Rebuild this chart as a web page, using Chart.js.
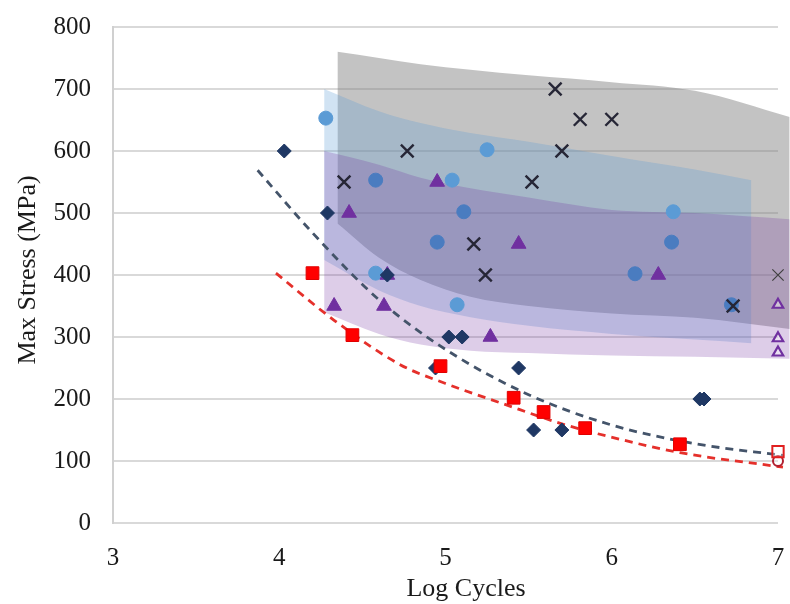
<!DOCTYPE html>
<html>
<head>
<meta charset="utf-8">
<script src="https://cdn.jsdelivr.net/npm/chart.js@4/dist/chart.umd.min.js"></script>
<style>
  body { margin: 0; background: #fff; }
  #wrap { width: 790px; height: 604px; }
</style>
</head>
<body>
<div id="wrap"><canvas id="sn"></canvas></div>
<script>
// scatter data (log cycles, max stress MPa)
let diamondX = [4.03, 4.29, 4.65, 4.94, 5.02, 5.10, 5.44, 5.53, 5.70, 6.53, 6.555];
let diamondY = [600, 500, 400, 250, 300, 300, 250, 150, 150, 200, 200];

let circleLightX = [4.28, 4.58, 5.04, 5.07, 5.25, 6.37];
let circleLightY = [653, 403, 553, 352, 602, 502];
let circleX = [4.58, 4.95, 5.11, 6.14, 6.36, 6.72];
let circleY = [553, 453, 502, 402, 453, 352];

let triX = [4.33, 4.42, 4.63, 4.65, 4.95, 5.27, 5.44, 6.28];
let triY = [350, 500, 350, 400, 550, 300, 450, 400];
let triOpenX = [7, 7, 7];
let triOpenY = [352, 298, 275];

let crossX = [4.39, 4.77, 5.17, 5.24, 5.52, 5.66, 5.70, 5.81, 6.0, 6.73];
let crossY = [550, 600, 450, 400, 550, 700, 600, 651, 651, 350];
let crossOpenX = [7];
let crossOpenY = [400];

let squareX = [4.20, 4.44, 4.97, 5.41, 5.59, 5.84, 6.41];
let squareY = [403, 303, 253, 202, 179, 153, 127];
let squareOpenX = [7];
let squareOpenY = [115];
let circleOpenX = [7];
let circleOpenY = [100];

// dashed trend lines
let trendGrayX = [3.87, 4.2, 4.6, 5.0, 5.5, 6.0, 6.5, 7.03];
let trendGrayY = [569, 468, 360, 280, 207, 158, 128, 109];
let trendRedX = [3.98, 4.33, 4.73, 5.0, 5.35, 5.7, 6.05, 6.42, 7.03];
let trendRedY = [403, 327, 255, 225, 192, 160, 135, 113, 90];

// shaded bands
let grayBandX = [4.35, 4.6, 4.85, 5.15, 5.5, 6.0, 6.5, 7.07];
let grayBandTop = [760, 750, 740, 731, 722, 711, 697, 655];
let grayBandBot = [483, 428, 392, 365, 350, 338, 331, 313];

let blueBandX = [4.27, 4.6, 4.85, 5.15, 5.5, 6.0, 6.5, 6.84];
let blueBandTop = [700, 664, 645, 629, 615, 592, 570, 553];
let blueBandBot = [424, 375, 350, 332, 318, 305, 296, 290];

let purpleBandX = [4.27, 4.6, 4.85, 5.15, 5.5, 6.0, 6.5, 7.07];
let purpleBandTop = [600, 578, 557, 540, 525, 505, 500, 490];
let purpleBandBot = [340, 305, 288, 278, 274, 270, 268, 265];

const spill = {left: 0, top: 0, right: 12, bottom: 0};

function pts(xs, ys) {
    return xs.map(function(x, i) { return {x: x, y: ys[i]}; });
}

function marker(xs, ys, style, r, fill, border, bw) {
    return {
        type: 'scatter',
        data: pts(xs, ys),
        pointStyle: style,
        pointRadius: r,
        pointHoverRadius: r,
        backgroundColor: fill,
        borderColor: border,
        borderWidth: bw,
        clip: false,
        order: 1
    };
}

function bandTop(xs, ys, color) {
    return {
        type: 'line',
        data: pts(xs, ys),
        borderWidth: 0,
        borderColor: 'transparent',
        backgroundColor: color,
        pointRadius: 0,
        cubicInterpolationMode: 'monotone',
        fill: '+1',
        clip: spill,
        order: 10
    };
}

function bandBot(xs, ys) {
    return {
        type: 'line',
        data: pts(xs, ys),
        borderWidth: 0,
        borderColor: 'transparent',
        pointRadius: 0,
        cubicInterpolationMode: 'monotone',
        fill: false,
        clip: spill,
        order: 10
    };
}

function trend(xs, ys, color) {
    return {
        type: 'line',
        data: pts(xs, ys),
        borderColor: color,
        borderWidth: 2.8,
        borderDash: [8, 6],
        pointRadius: 0,
        cubicInterpolationMode: 'monotone',
        fill: false,
        clip: spill,
        order: 5
    };
}

// the shaded areas run a little past the last tick, so widen the area while datasets draw
const widenArea = {
    id: 'widenArea',
    beforeDatasetsDraw(chart) {
        chart.chartArea.right += 12;
    },
    afterDatasetsDraw(chart) {
        chart.chartArea.right -= 12;
    }
};

// axis titles drawn at the spots the original puts them
const axisTitles = {
    id: 'axisTitles',
    afterDraw(chart) {
        const c = chart.ctx;
        c.save();
        c.fillStyle = '#1a1a1a';
        c.font = '26px "Liberation Serif", "Times New Roman", serif';
        c.textAlign = 'center';
        c.textBaseline = 'middle';
        c.fillText('Log Cycles', 466, 589);
        c.translate(28, 270);
        c.rotate(-Math.PI / 2);
        c.fillText('Max Stress (MPa)', 0, 0);
        c.restore();
    }
};

var ctx = document.getElementById('sn').getContext('2d');
var chart = new Chart(ctx, {
    type: 'scatter',
    data: {
        datasets: [
            marker(squareX, squareY, 'rect', 9, '#FF0000', '#E00000', 1),
            marker(squareOpenX, squareOpenY, 'rect', 8, 'rgba(255,255,255,0.3)', '#E02020', 2),
            marker(circleOpenX, circleOpenY, 'circle', 5, 'rgba(255,255,255,0.3)', '#B02030', 2),
            marker(diamondX, diamondY, 'rectRot', 7, '#1F3864', '#1F3864', 1),
            marker(triX, triY, 'triangle', 8.5, '#7030A0', '#7030A0', 1),
            marker(triOpenX, triOpenY, 'triangle', 6, 'rgba(255,255,255,0.4)', '#7030A0', 2.2),
            marker(crossX, crossY, 'crossRot', 9, '#262636', '#262636', 2.4),
            marker(crossOpenX, crossOpenY, 'crossRot', 8, '#404040', '#404040', 1.2),
            marker(circleLightX, circleLightY, 'circle', 7, '#5B9BD5', '#5B9BD5', 1),
            marker(circleX, circleY, 'circle', 7, '#4A7CC0', '#4A7CC0', 1),
            trend(trendGrayX, trendGrayY, '#44546A'),
            trend(trendRedX, trendRedY, '#E5302B'),
            bandTop(purpleBandX, purpleBandTop, 'rgba(112,48,160,0.24)'),
            bandBot(purpleBandX, purpleBandBot),
            bandTop(blueBandX, blueBandTop, 'rgba(91,155,213,0.28)'),
            bandBot(blueBandX, blueBandBot),
            bandTop(grayBandX, grayBandTop, 'rgba(127,127,127,0.47)'),
            bandBot(grayBandX, grayBandBot)
        ]
    },
    options: {
        responsive: true,
        maintainAspectRatio: false,
        animation: false,
        layout: {
            padding: { top: 27, right: 12, left: 0, bottom: 0 }
        },
        plugins: {
            legend: { display: false },
            tooltip: { enabled: false }
        },
        scales: {
            x: {
                type: 'linear',
                min: 3,
                max: 7,
                ticks: {
                    stepSize: 1,
                    padding: 20,
                    color: '#1a1a1a',
                    font: { family: '"Liberation Serif", serif', size: 25 }
                },
                grid: { display: false, drawTicks: false },
                border: { display: false },
                afterFit: function(scale) {
                    scale.height = 81;
                    scale.paddingLeft = 0;
                    scale.paddingRight = 0;
                }
            },
            y: {
                min: 0,
                max: 800,
                ticks: {
                    stepSize: 100,
                    padding: 22,
                    color: '#1a1a1a',
                    font: { family: '"Liberation Serif", serif', size: 25 }
                },
                grid: { color: '#D9D9D9', lineWidth: 2, drawTicks: false },
                border: { display: true, color: '#D0D0D0', width: 2 },
                afterFit: function(scale) {
                    scale.width = 113;
                    scale.paddingTop = 0;
                    scale.paddingBottom = 0;
                }
            }
        }
    },
    plugins: [widenArea, axisTitles]
});
</script>
</body>
</html>
